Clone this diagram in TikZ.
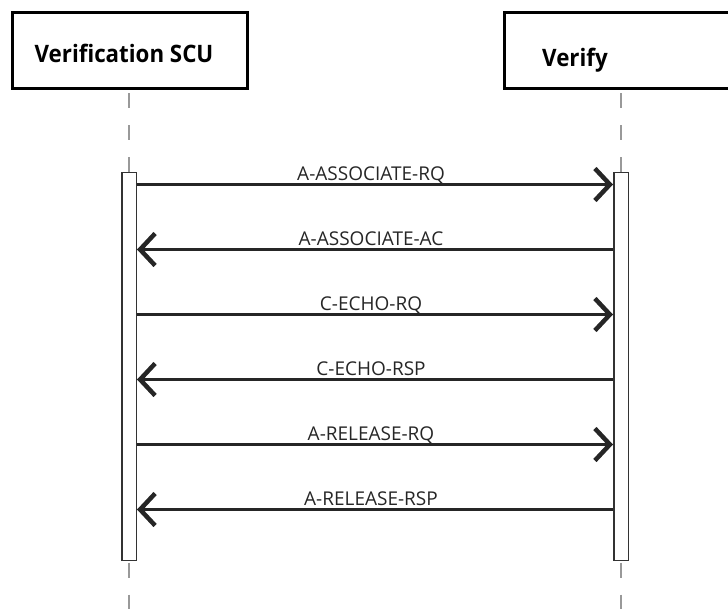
\documentclass[tikz,border=0pt]{standalone}
\usepackage{fontspec}
\setmainfont{Open Sans}
\newfontfamily\titlefont[FakeStretch=0.93]{Open Sans}
\usetikzlibrary{arrows.meta}
\begin{document}
\begin{tikzpicture}[x=1pt,y=-1pt,
 head/.style={draw=black,line width=3pt,fill=white,inner sep=0pt,minimum width=235pt,minimum height=76pt},
 actbar/.style={draw=black!80,line width=1.5pt,fill=white,inner sep=0pt,minimum width=14.5pt,minimum height=387.6pt},
 life/.style={draw=black!40,line width=2pt,dash pattern=on 15pt off 17pt},
 msg/.style={draw=black!85,line width=3pt,-{Straight Barb[length=15pt,width=32pt,line width'=4.5pt]}},
 lbl/.style={anchor=base,font=\fontsize{19}{21}\selectfont,text=black!85,inner sep=0pt},
 ttl/.style={font=\titlefont\bfseries\fontsize{24}{28}\selectfont,inner sep=0pt,text=black}]
\path[use as bounding box] (0,0) rectangle (728,608);
\clip (0,0) rectangle (728,608);
% heads
\node[head] (lhead) at (130,50.5) {};
\node[head] (rhead) at (621.5,50.5) {};
\node[ttl,anchor=base] (ltitle) at (124,62) {Verification SCU};
\node[ttl,anchor=base west] (rtitle) at (542,66) {Verify};
% activation bars
\node[actbar] (lbar) at (129,366.5) {};
\node[actbar] (rbar) at (621,366.5) {};
% lifelines
\coordinate (lend) at (129,612);
\coordinate (rend) at (621,612);
\draw[life,dash phase=29pt] (lhead.south -| lbar.north) -- (lbar.north);
\draw[life,dash phase=29pt] (rhead.south -| rbar.north) -- (rbar.north);
\draw[life,dash phase=30.5pt] (lbar.south) -- (lend);
\draw[life,dash phase=30.5pt] (rbar.south) -- (rend);
% messages
\draw[msg] (lbar.east |- 0,184.5) -- (rbar.west |- 0,184.5);
\node[lbl] (m1) at (371,180) {A-ASSOCIATE-RQ};
\draw[msg] (rbar.west |- 0,249.5) -- (lbar.east |- 0,249.5);
\node[lbl] (m2) at (371,245) {A-ASSOCIATE-AC};
\draw[msg] (lbar.east |- 0,314.5) -- (rbar.west |- 0,314.5);
\node[lbl] (m3) at (371,310) {C-ECHO-RQ};
\draw[msg] (rbar.west |- 0,379.5) -- (lbar.east |- 0,379.5);
\node[lbl] (m4) at (371,375) {C-ECHO-RSP};
\draw[msg] (lbar.east |- 0,444.5) -- (rbar.west |- 0,444.5);
\node[lbl] (m5) at (371,440) {A-RELEASE-RQ};
\draw[msg] (rbar.west |- 0,509.5) -- (lbar.east |- 0,509.5);
\node[lbl] (m6) at (371,505) {A-RELEASE-RSP};
\end{tikzpicture}
\end{document}
